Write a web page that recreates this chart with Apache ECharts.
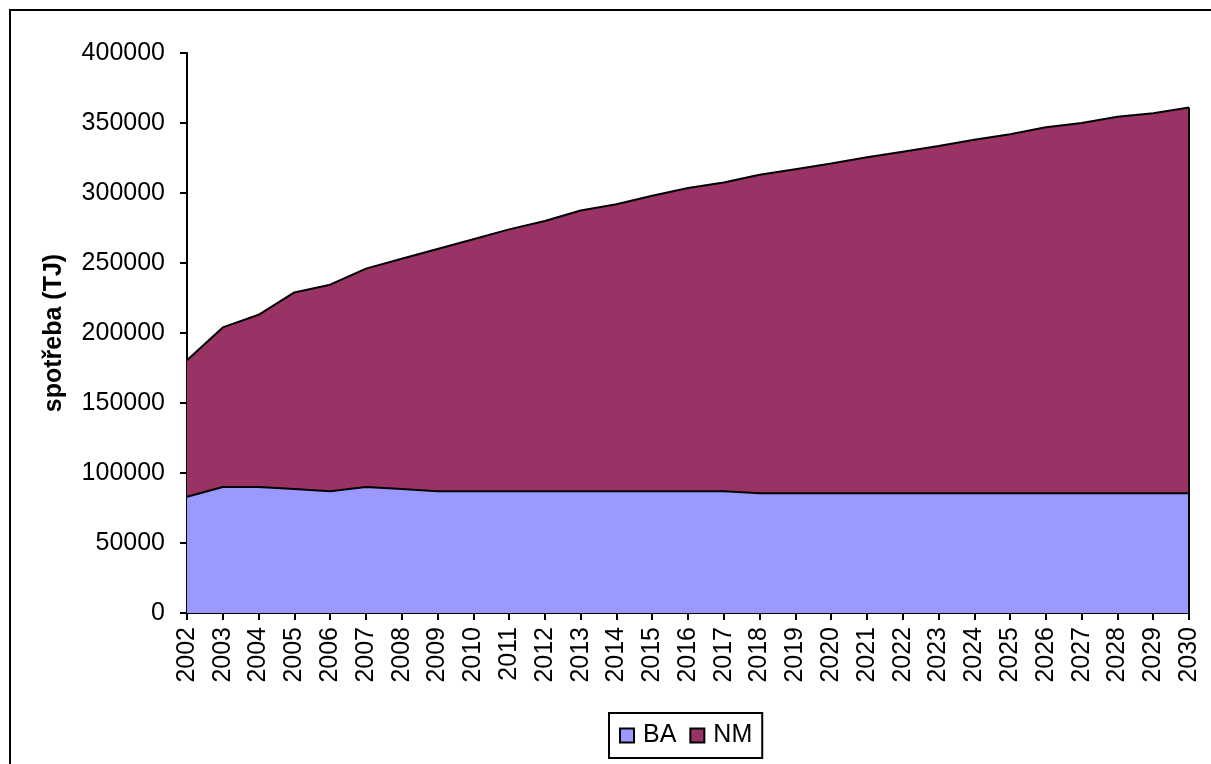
<!DOCTYPE html>
<html>
<head>
<meta charset="utf-8">
<style>
  html, body { margin: 0; padding: 0; background: #fff; }
  #chart { width: 1211px; height: 764px; }
</style>
<script src="https://cdn.jsdelivr.net/npm/echarts@6/dist/echarts.min.js"></script>
</head>
<body>
<div id="chart"></div>
<script>
// Years on the category axis
const years = ['2002','2003','2004','2005','2006','2007','2008','2009','2010','2011',
  '2012','2013','2014','2015','2016','2017','2018','2019','2020','2021',
  '2022','2023','2024','2025','2026','2027','2028','2029','2030'];

// Consumption (TJ) per component, stacked
const baValues = [83000, 90000, 90000, 88500, 87000, 90000, 88500,
  87000, 87000, 87000, 87000, 87000, 87000, 87000, 87000, 87000,
  85500, 85500, 85500, 85500, 85500, 85500, 85500, 85500, 85500, 85500, 85500, 85500, 85500];
const nmValues = [97500, 114000, 123000, 140500, 147500, 156000, 164500, 173000, 180000, 187000,
  193000, 200500, 205000, 211000, 216500, 220500, 227500, 231500, 235500, 240000,
  244000, 248000, 252500, 256500, 261500, 264500, 269000, 271500, 275500];

const seriesNames = ['BA', 'NM'];
const axisTitle = 'spotřeba (TJ)';

const FONT = '"Liberation Sans", Arial, sans-serif';
const FS = 25;
const lastIdx = years.length - 1;
const lastTotal = baValues[lastIdx] + nmValues[lastIdx];

const chart = echarts.init(document.getElementById('chart'), null, { renderer: 'canvas' });

chart.setOption({
  animation: false,
  backgroundColor: '#ffffff',
  graphic: [{
    type: 'rect',
    shape: { x: 10, y: 10, width: 1400, height: 1000 },
    style: { fill: 'none', stroke: '#000', lineWidth: 2 },
    silent: true
  }],
  grid: { left: 187, top: 53, right: 22, bottom: 151, containLabel: false },
  legend: {
    data: seriesNames,
    left: 609,
    top: 713,
    orient: 'horizontal',
    itemWidth: 14,
    itemHeight: 14,
    itemGap: 13,
    padding: [10, 10, 10, 10],
    borderColor: '#000',
    borderWidth: 2,
    icon: 'rect',
    textStyle: { fontFamily: FONT, fontSize: FS, color: '#000', padding: [0, 0, 0, 4] }
  },
  xAxis: {
    type: 'category',
    data: years,
    boundaryGap: false,
    axisLine: { lineStyle: { color: '#000', width: 2 } },
    axisTick: { alignWithLabel: true, length: 7, lineStyle: { color: '#000', width: 2 } },
    axisLabel: {
      rotate: 90,
      interval: 0,
      margin: 14,
      color: '#000',
      fontFamily: FONT,
      fontSize: FS
    },
    splitLine: { show: false }
  },
  yAxis: {
    type: 'value',
    min: 0,
    max: 400000,
    interval: 50000,
    name: axisTitle,
    nameLocation: 'middle',
    nameGap: 120,
    nameRotate: 90,
    nameTextStyle: { fontFamily: FONT, fontSize: FS, fontWeight: 'bold', color: '#000' },
    axisLine: { show: true, lineStyle: { color: '#000', width: 2 } },
    axisTick: { show: true, length: 7, lineStyle: { color: '#000', width: 2 } },
    axisLabel: {
      color: '#000',
      fontFamily: FONT,
      fontSize: FS,
      margin: 22,
      formatter: (v) => String(v)
    },
    splitLine: { show: false }
  },
  series: [
    {
      name: seriesNames[0],
      type: 'line',
      stack: 'total',
      data: baValues,
      symbol: 'none',
      lineStyle: { color: '#000', width: 2 },
      itemStyle: { color: '#9999FF', borderColor: '#000', borderWidth: 1 },
      areaStyle: { color: '#9999FF', opacity: 1 },
      markLine: {
        silent: true,
        symbol: 'none',
        label: { show: false },
        lineStyle: { color: '#000', width: 2, type: 'solid' },
        data: [[
          { coord: [years[lastIdx], 0] },
          { coord: [years[lastIdx], lastTotal] }
        ]]
      },
      z: 3
    },
    {
      name: seriesNames[1],
      type: 'line',
      stack: 'total',
      data: nmValues,
      symbol: 'none',
      lineStyle: { color: '#000', width: 2 },
      itemStyle: { color: '#993366', borderColor: '#000', borderWidth: 1 },
      areaStyle: { color: '#993366', opacity: 1 },
      z: 2
    }
  ]
});
</script>
</body>
</html>
